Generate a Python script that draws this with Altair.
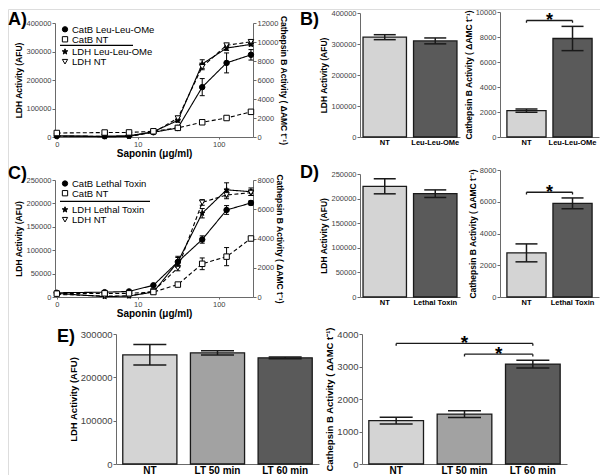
import altair as alt
import pandas as pd

FONT = "Liberation Sans"
TICK_LABEL = "#444444"
AXIS_LINE = "#6a6a6a"
CATB_TITLE = "Cathepsin B Activity ( \u0394AMC t\u207b\u00b9)"
STAR = ("M0,-1L0.24,-0.31L0.95,-0.31L0.38,0.12L0.59,0.81L0,0.38"
        "L-0.59,0.81L-0.38,0.12L-0.95,-0.31L-0.24,-0.31Z")

# ---------------- data ----------------
doses = [0, 3.9, 7.8, 15.6, 31.25, 62.5, 125, 250]
dose_ticks = [0, 10, 100]

A_catb_names = ["CatB Leu-Leu-OMe", "CatB NT"]
A_catb_llo = [100, 80, 150, 500, 950, 5250, 7800, 8650]
A_catb_llo_err = [0, 0, 0, 80, 120, 900, 1050, 550]
A_catb_nt = [420, 470, 480, 600, 960, 1550, 2000, 2650]
A_catb_nt_err = [0, 0, 0, 0, 80, 100, 100, 120]
A_ldh_names = ["LDH Leu-Leu-OMe", "LDH NT"]
A_ldh_llo = [4000, 1000, 2000, 19000, 58000, 256000, 312000, 325000]
A_ldh_llo_err = [0, 0, 0, 3000, 6000, 15000, 8000, 5000]
A_ldh_nt = [3000, 2000, 2000, 16000, 66000, 246000, 322000, 334000]
A_ldh_nt_err = [0, 0, 0, 2500, 7000, 10000, 4000, 4000]

B_cats = ["NT", "Leu-Leu-OMe"]
B_ldh = [322000, 310000]
B_ldh_err = [8000, 9500]
B_catb = [2110, 7880]
B_catb_err = [130, 970]
B_sig = [["NT", "Leu-Leu-OMe", 9320]]

C_catb_names = ["CatB Lethal Toxin", "CatB NT"]
C_catb_lt = [290, 330, 380, 800, 2400, 3930, 5950, 6430]
C_catb_lt_err = [0, 0, 0, 60, 300, 250, 300, 150]
C_catb_nt = [230, 250, 250, 340, 850, 2270, 2760, 4000]
C_catb_nt_err = [0, 0, 0, 0, 80, 400, 620, 100]
C_ldh_names = ["LDH Lethal Toxin", "LDH NT"]
C_ldh_lt = [7700, 700, 2100, 10500, 75000, 179000, 229000, 225000]
C_ldh_lt_err = [0, 0, 0, 3000, 12000, 10000, 15000, 8000]
C_ldh_nt = [5600, 2100, 2100, 12600, 62000, 202000, 218000, 223000]
C_ldh_nt_err = [0, 0, 0, 2500, 6000, 6000, 8000, 6000]

D_cats = ["NT", "Lethal Toxin"]
D_ldh = [225000, 210000]
D_ldh_err = [15300, 7700]
D_catb = [2780, 5900]
D_catb_err = [565, 340]
D_sig = [["NT", "Lethal Toxin", 6600]]

E_cats = ["NT", "LT 50 min", "LT 60 min"]
E_ldh = [252000, 256500, 245000]
E_ldh_err = [23800, 5000, 2000]
E_catb = [1335, 1535, 3075]
E_catb_err = [105, 106, 121]
E_sig = [["NT", "LT 60 min", 3710], ["LT 50 min", "LT 60 min", 3380]]

GRAY_LIGHT = "#d4d4d4"
GRAY_MID = "#a2a2a2"
GRAY_DARK = "#5a5a5a"

CATB_SHAPES = ["circle", "square"]
LDH_SHAPES = [STAR, "triangle-down"]
SERIES_FILLS = ["black", "white"]

DUMMY = pd.DataFrame({"k": [0]})

# whole canvas (page coordinates minus the 8px page margin)
W, H = 592, 466
M = 8


# ---------------- helpers ----------------
def letter(text, lx, ly):
    return alt.Chart(DUMMY).mark_text(
        text=text, fontSize=18, fontWeight="bold", font=FONT, align="left",
        baseline="alphabetic", color="black").encode(
        x=alt.value(lx - M), y=alt.value(ly - M))


def legend_entries(names, shapes, rows_y, px, py):
    out = []
    for name, shp, fl, yc in zip(names, shapes, SERIES_FILLS, rows_y):
        out.append(alt.Chart(DUMMY).mark_point(
            shape=shp, filled=True, fill=fl, stroke="black", strokeWidth=1,
            size=28 if shp != STAR else 34, opacity=1).encode(
            x=alt.value(px - M + 10), y=alt.value(py - M + yc)))
        out.append(alt.Chart(DUMMY).mark_text(
            text=name, fontSize=9.5, font=FONT, align="left", baseline="middle",
            color="black").encode(x=alt.value(px - M + 17), y=alt.value(py - M + yc + 0.5)))
    return out


def axis_y(orient, maxv, step, title, lab_fs, title_fs, offset, tpad=2):
    return alt.Axis(orient=orient, offset=offset, values=list(range(0, maxv + 1, step)),
                    format="d", title=title, labelFontSize=lab_fs, labelColor=TICK_LABEL,
                    labelPadding=1, titleFontSize=title_fs, titleFontWeight="bold",
                    titleColor="black", titlePadding=tpad, tickSize=3, tickColor=AXIS_LINE,
                    domainColor=AXIS_LINE, grid=False, labelFont=FONT, titleFont=FONT,
                    labelFlush=False)


def long_df(names, vals, errs):
    rows = []
    for n, vs, es in zip(names, vals, errs):
        for d, v, e in zip(doses, vs, es):
            rows.append({"series": n, "dose": d, "value": v, "err": e,
                         "lo": v - e, "hi": v + e})
    return pd.DataFrame(rows)


def x_dose(geom):
    px, py, w, h = geom
    vals = [1 if t == 0 else t for t in dose_ticks]
    return alt.X("xpos:Q",
                 scale=alt.Scale(type="log", domain=[0.95, 265], nice=False,
                                 range=[px - M, px - M + w]),
                 axis=alt.Axis(orient="bottom", values=vals, offset=(py - M + h) - H,
                               labelExpr="datum.value < 2 ? '0' : format(datum.value, 'd')",
                               title="Saponin (\u03bcg/ml)", titleFontSize=10,
                               titleFontWeight="bold", titleColor="black", titleFont=FONT,
                               labelFontSize=7.5, labelColor=TICK_LABEL, labelFont=FONT,
                               tickSize=2, labelPadding=1, titlePadding=1,
                               tickColor=AXIS_LINE, domainColor=AXIS_LINE, grid=False,
                               labelFlush=False))


def dose_layer(df, names, shapes, ymax, ystep, title, orient, geom, tpad):
    px, py, w, h = geom
    xe = x_dose(geom)
    ysc = alt.Scale(domain=[0, ymax], nice=False, range=[py - M + h, py - M])
    off = -(px - M) if orient == "left" else (px - M + w) - W
    yax = axis_y(orient, ymax, ystep, title, 7.5, 8.5, off, tpad)
    base = alt.Chart(df).transform_calculate(xpos="datum.dose == 0 ? 1 : datum.dose")
    y_val = alt.Y("value:Q", scale=ysc, axis=yax)
    line = base.mark_line(color="black", strokeWidth=1.1).encode(
        x=xe, y=y_val,
        strokeDash=alt.StrokeDash("series:N",
                                  scale=alt.Scale(domain=names, range=[[1, 0], [4, 2.5]]),
                                  legend=None))
    eb = base.transform_filter("datum.err > 0")
    rule = eb.mark_rule(color="black", strokeWidth=1).encode(
        x=xe, y=alt.Y("lo:Q", scale=ysc, axis=yax), y2="hi:Q")
    cap_lo = eb.mark_tick(orient="horizontal", size=5, thickness=1, color="black",
                          opacity=1).encode(x=xe, y=alt.Y("lo:Q", scale=ysc, axis=yax))
    cap_hi = eb.mark_tick(orient="horizontal", size=5, thickness=1, color="black",
                          opacity=1).encode(x=xe, y=alt.Y("hi:Q", scale=ysc, axis=yax))
    pts = base.mark_point(filled=True, size=30, stroke="black", strokeWidth=1,
                          opacity=1).encode(
        x=xe, y=y_val,
        shape=alt.Shape("series:N", scale=alt.Scale(domain=names, range=shapes), legend=None),
        fill=alt.Fill("series:N", scale=alt.Scale(domain=names, range=SERIES_FILLS),
                      legend=None))
    return alt.layer(line, rule, cap_lo, cap_hi, pts)


def dose_panel(catb_names, catb_vals, catb_errs, ldh_names, ldh_vals, ldh_errs,
               catb_max, catb_step, ldh_max, ldh_step, geom):
    ldh = dose_layer(long_df(ldh_names, ldh_vals, ldh_errs), ldh_names,
                     LDH_SHAPES, ldh_max, ldh_step, "LDH Activity (AFU)", "left", geom, 2)
    catb = dose_layer(long_df(catb_names, catb_vals, catb_errs), catb_names,
                      CATB_SHAPES, catb_max, catb_step, CATB_TITLE, "right", geom, 1)
    return alt.layer(ldh, catb).resolve_scale(
        y="independent", shape="independent", fill="independent",
        strokeDash="independent")


def dose_decor(catb_names, ldh_names, geom, leg_rows, sep_y, sep_x2):
    px, py, w, h = geom
    sep = alt.Chart(DUMMY).mark_rule(color="black", strokeWidth=1.2).encode(
        x=alt.value(px - M + 5), x2=alt.value(px - M + sep_x2), y=alt.value(py - M + sep_y))
    return ([sep] + legend_entries(catb_names, CATB_SHAPES, leg_rows[:2], px, py) +
            legend_entries(ldh_names, LDH_SHAPES, leg_rows[2:], px, py))


def bar_panel(cats, vals, errs, colors, ymax, ystep, title, geom, pin, pout,
              lab_fs, title_fs, xlab_fs, cap, sig, star_fs=18):
    px, py, w, h = geom
    df = pd.DataFrame({"cat": cats, "value": vals,
                       "lo": [v - e for v, e in zip(vals, errs)],
                       "hi": [v + e for v, e in zip(vals, errs)]})
    xsc = alt.Scale(domain=cats, paddingInner=pin, paddingOuter=pout,
                    range=[px - M, px - M + w])
    xax = alt.Axis(orient="bottom", title=None, labelAngle=0, ticks=False,
                   labelFontSize=xlab_fs, labelFontWeight="bold", labelColor="black",
                   labelPadding=1, domainColor=AXIS_LINE, labelFont=FONT,
                   offset=(py - M + h) - H)
    xe = alt.X("cat:N", scale=xsc, axis=xax, sort=cats)
    ysc = alt.Scale(domain=[0, ymax], nice=False, range=[py - M + h, py - M])
    yax = axis_y("left", ymax, ystep, title, lab_fs, title_fs, -(px - M), 2)
    bars = alt.Chart(df).mark_bar(stroke="#1a1a1a", strokeWidth=1.3).encode(
        x=xe, y=alt.Y("value:Q", scale=ysc, axis=yax),
        fill=alt.Fill("cat:N", scale=alt.Scale(domain=cats, range=colors), legend=None))
    err = alt.Chart(df).mark_rule(color="#1a1a1a", strokeWidth=1.5).encode(
        x=xe, y=alt.Y("lo:Q", scale=ysc, axis=yax), y2="hi:Q")
    cap_lo = alt.Chart(df).mark_tick(orient="horizontal", size=cap, thickness=1.5,
                                     color="#1a1a1a", opacity=1).encode(
        x=xe, y=alt.Y("lo:Q", scale=ysc, axis=yax))
    cap_hi = alt.Chart(df).mark_tick(orient="horizontal", size=cap, thickness=1.5,
                                     color="#1a1a1a", opacity=1).encode(
        x=xe, y=alt.Y("hi:Q", scale=ysc, axis=yax))
    layers = [bars, err, cap_lo, cap_hi]
    drop = ymax * 0.018
    step = w / (len(cats) - pin + 2 * pout)   # band step implied by the scale padding
    for c1, c2, yv in sig:
        i1, i2 = cats.index(c1), cats.index(c2)
        one = pd.DataFrame({"c1": [c1], "c2": [c2], "y": [yv]})
        ends = pd.DataFrame({"c": [c1, c2], "y": [yv, yv], "yd": [yv - drop, yv - drop]})
        hline = alt.Chart(one).mark_rule(color="#1a1a1a", strokeWidth=1.3).encode(
            x=alt.X("c1:N", scale=xsc, axis=xax), x2="c2:N",
            y=alt.Y("y:Q", scale=ysc, axis=yax))
        vline = alt.Chart(ends).mark_rule(color="#1a1a1a", strokeWidth=1.3).encode(
            x=alt.X("c:N", scale=xsc, axis=xax),
            y=alt.Y("y:Q", scale=ysc, axis=yax), y2="yd:Q")
        star = alt.Chart(one).mark_text(text="*", fontSize=star_fs, fontWeight="bold",
                                        font=FONT, baseline="alphabetic", dy=5.5,
                                        dx=(i2 - i1) * step / 2,
                                        color="black").encode(
            x=alt.X("c1:N", scale=xsc, axis=xax, bandPosition=0.5),
            y=alt.Y("y:Q", scale=ysc, axis=yax))
        layers += [hline, vline, star]
    return alt.layer(*layers)


# ---------------- layout (page pixel geometry: x, y, width, height) ----------------
A_geom = (55, 22, 198, 114)
Bl_geom = (360, 12, 100, 124)
Br_geom = (500, 11, 99, 125)
C_geom = (55, 179, 198, 117)
Dl_geom = (360, 173, 100, 123)
Dr_geom = (500, 169, 99, 127)
El_geom = (116, 333, 203, 130)
Er_geom = (362, 333, 205, 130)

A = dose_panel(A_catb_names, [A_catb_llo, A_catb_nt], [A_catb_llo_err, A_catb_nt_err],
               A_ldh_names, [A_ldh_llo, A_ldh_nt], [A_ldh_llo_err, A_ldh_nt_err],
               12000, 2000, 400000, 100000, A_geom)
A_dec = dose_decor(A_catb_names, A_ldh_names, A_geom, [6.3, 16.3, 28.7, 38.7], 22.3, 78)
Bl = bar_panel(B_cats, B_ldh, B_ldh_err, [GRAY_LIGHT, GRAY_DARK], 400000, 100000,
               "LDH Activity (AFU)", Bl_geom, 0.14, 0.06, 7.5, 8.5, 7.5, 22, [])
Br = bar_panel(B_cats, B_catb, B_catb_err, [GRAY_LIGHT, GRAY_DARK], 10000, 2000,
               CATB_TITLE, Br_geom, 0.15, 0.15, 7.5, 8.5, 7.5, 22, B_sig)

C = dose_panel(C_catb_names, [C_catb_lt, C_catb_nt], [C_catb_lt_err, C_catb_nt_err],
               C_ldh_names, [C_ldh_lt, C_ldh_nt], [C_ldh_lt_err, C_ldh_nt_err],
               8000, 2000, 250000, 50000, C_geom)
C_dec = dose_decor(C_catb_names, C_ldh_names, C_geom, [3.5, 13.2, 29.7, 39.7], 21.3, 95)
Dl = bar_panel(D_cats, D_ldh, D_ldh_err, [GRAY_LIGHT, GRAY_DARK], 250000, 50000,
               "LDH Activity (AFU)", Dl_geom, 0.14, 0.06, 7.5, 8.5, 7.5, 22, [])
Dr = bar_panel(D_cats, D_catb, D_catb_err, [GRAY_LIGHT, GRAY_DARK], 8000, 2000,
               CATB_TITLE, Dr_geom, 0.15, 0.15, 7.5, 8.5, 7.5, 22, D_sig)

El = bar_panel(E_cats, E_ldh, E_ldh_err, [GRAY_LIGHT, GRAY_MID, GRAY_DARK], 300000, 100000,
               "LDH Activity (AFU)", El_geom, 0.2, 0.1, 9.5, 9.5, 10, 33, [])
Er = bar_panel(E_cats, E_catb, E_catb_err, [GRAY_LIGHT, GRAY_MID, GRAY_DARK], 4000, 1000,
               CATB_TITLE, Er_geom, 0.2, 0.1, 9.5, 9.5, 10, 33, E_sig, star_fs=19)

letters = [letter("A)", 8, 23.5), letter("B)", 300, 23.5), letter("C)", 8, 178),
           letter("D)", 300, 177), letter("E)", 57, 341)]

chart = alt.layer(A, Bl, Br, C, Dl, Dr, El, Er, *A_dec, *C_dec, *letters).resolve_scale(
    x="independent", y="independent", fill="independent", shape="independent",
    strokeDash="independent"
).properties(width=W, height=H, padding=0).configure_view(stroke=None).configure(font=FONT)

chart.save("out.html", embed_options={"renderer": "svg", "actions": False})
